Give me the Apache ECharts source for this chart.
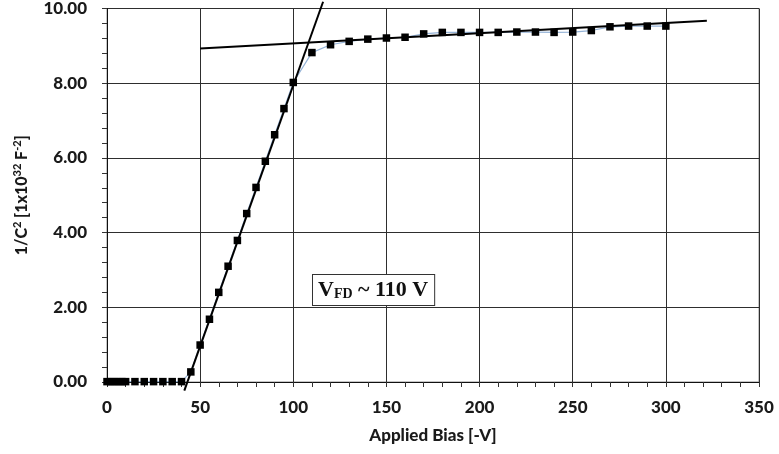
<!DOCTYPE html>
<html>
<head>
<meta charset="utf-8">
<script src="https://cdn.jsdelivr.net/npm/echarts@6/dist/echarts.min.js"></script>
<style>
    html, body { margin: 0; padding: 0; background: #fff; }
    #chart { width: 779px; height: 454px; }
</style>
</head>
<body>
<div id="chart"></div>
<script>
    // measured C-V points, bias [-V] vs 1/C^2 [1e32 F^-2]
    var biasV = [0, 2, 4, 6, 8, 10, 15, 20, 25, 30, 35, 40,
        45, 50, 55, 60, 65, 70, 75, 80, 85, 90, 95, 100,
        110, 120, 130, 140, 150, 160, 170, 180, 190, 200,
        210, 220, 230, 240, 250, 260, 270, 280, 290, 300];
    var invC2 = [0.01, 0.01, 0.01, 0.01, 0.01, 0.01, 0.01, 0.01, 0.01, 0.01, 0.01, 0.01,
        0.27, 0.99, 1.68, 2.40, 3.10, 3.79, 4.51, 5.21, 5.91, 6.62, 7.32, 8.02,
        8.82, 9.03, 9.12, 9.18, 9.21, 9.23, 9.32, 9.36, 9.36, 9.36,
        9.36, 9.37, 9.37, 9.36, 9.37, 9.41, 9.51, 9.53, 9.53, 9.53];

    // the two straight fits whose crossing gives V_FD
    var riseFitV = [41.5, 116];
    var riseFitY = [-0.23, 10.18];
    var flatFitV = [50, 322];
    var flatFitY = [8.93, 9.67];

    var xTicks = [0, 50, 100, 150, 200, 250, 300, 350];
    var yTicks = [0, 2, 4, 6, 8, 10];

    var labelFont = 'Lato';
    var gridColor = '#2e2e2e';

    function pairs(xs, ys) {
        var out = [];
        for (var i = 0; i < xs.length; i++) {
            out.push([xs[i], ys[i]]);
        }
        return out;
    }

    var chart = echarts.init(document.getElementById('chart'), null, {renderer: 'canvas'});

    var option = {
        animation: false,
        backgroundColor: '#fff',
        grid: {
            left: 107, right: 20, top: 8, bottom: 72,
            show: true,
            borderColor: '#8c8c8c',
            borderWidth: 1
        },
        xAxis: {
            type: 'value',
            min: xTicks[0],
            max: xTicks[xTicks.length - 1],
            interval: xTicks[1] - xTicks[0],
            name: 'Applied Bias [-V]',
            nameLocation: 'middle',
            nameGap: 45,
            nameTextStyle: {fontFamily: labelFont, fontWeight: 900, fontSize: 17, color: '#1a1a1a'},
            axisLine: {onZero: false, lineStyle: {color: '#111', width: 1}},
            axisTick: {show: true, inside: false, length: 5, lineStyle: {color: '#333'}},
            minorTick: {show: true, splitNumber: 5, length: 5, lineStyle: {color: '#333'}},
            axisLabel: {
                margin: 17,
                fontFamily: labelFont, fontWeight: 900, fontSize: 17, color: '#1a1a1a'
            },
            splitLine: {show: true, lineStyle: {color: gridColor, width: 1}}
        },
        yAxis: {
            type: 'value',
            min: yTicks[0],
            max: yTicks[yTicks.length - 1],
            interval: yTicks[1] - yTicks[0],
            name: '1/C{sup|2} [1x10{sup|32} F{sup|-2}]',
            nameLocation: 'middle',
            nameGap: 76,
            nameTextStyle: {
                fontFamily: labelFont, fontWeight: 900, fontSize: 16, color: '#1a1a1a',
                rich: {
                    sup: {fontFamily: labelFont, fontWeight: 900, fontSize: 11, color: '#1a1a1a', verticalAlign: 'top', padding: [0, 0, 8, 0]}
                }
            },
            axisLine: {show: true, onZero: false, lineStyle: {color: '#111', width: 1}},
            axisTick: {show: true, inside: false, length: 5, lineStyle: {color: '#333'}},
            minorTick: {show: true, splitNumber: 5, length: 5, lineStyle: {color: '#333'}},
            axisLabel: {
                margin: 20,
                fontFamily: labelFont, fontWeight: 900, fontSize: 17, color: '#1a1a1a',
                formatter: function (v) { return v.toFixed(2); }
            },
            splitLine: {show: true, lineStyle: {color: gridColor, width: 1}}
        },
        series: [
            {
                //measured points, thin blue connector + black squares
                name: 'data',
                type: 'line',
                data: pairs(biasV, invC2),
                symbol: 'rect',
                symbolSize: 7.5,
                itemStyle: {color: '#000'},
                lineStyle: {color: '#95b3d7', width: 1.2},
                z: 3
            },
            {
                name: 'rise fit',
                type: 'line',
                data: pairs(riseFitV, riseFitY),
                symbol: 'none',
                clip: false,
                lineStyle: {color: '#000', width: 2},
                z: 4
            },
            {
                name: 'plateau fit',
                type: 'line',
                data: pairs(flatFitV, flatFitY),
                symbol: 'none',
                clip: false,
                lineStyle: {color: '#000', width: 2},
                z: 4
            }
        ],
        graphic: [
            {
                //depletion voltage annotation box
                type: 'text',
                left: 312,
                top: 274,
                z: 10,
                style: {
                    text: '{v|V}{sub|FD}{v| ~ 110 V}',
                    backgroundColor: '#fff',
                    borderColor: '#333',
                    borderWidth: 1,
                    padding: [4, 6, 4, 5],
                    rich: {
                        v: {fontFamily: 'Liberation Serif', fontWeight: 'bold', fontSize: 22, fill: '#111', color: '#111'},
                        sub: {fontFamily: 'Liberation Serif', fontWeight: 'bold', fontSize: 14, fill: '#111', color: '#111', verticalAlign: 'bottom', padding: [8, 0, 0, 0]}
                    }
                }
            }
        ]
    };

    chart.setOption(option);
</script>
</body>
</html>
